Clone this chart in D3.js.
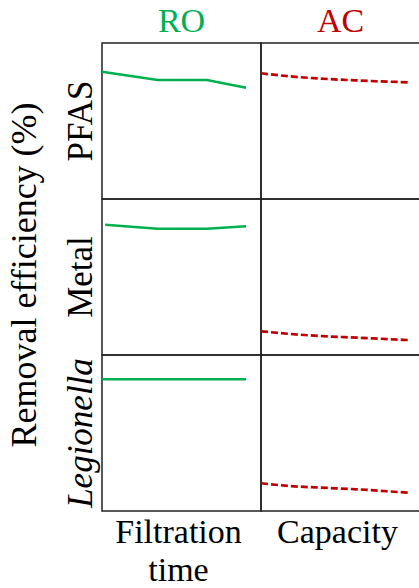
<!DOCTYPE html>
<html>
<head>
<meta charset="utf-8">
<script src="https://cdn.jsdelivr.net/npm/d3@7"></script>
</head>
<body style="margin:0">
<div class="container"></div>
<script>
// DATA
const rows = ["PFAS", "Metal", "Legionella"];
const columns = ["RO", "AC"];
const xLabels = [["Filtration", "time"], ["Capacity"]];

// RO: removal efficiency (%) along filtration time
const roTime = [0, 35, 66, 90.6];
const roPFAS = [81.6, 76.3, 76.3, 71.3];
const roMetalTime = [2, 35, 66, 90.6];
const roMetal = [83.5, 81, 81, 82.5];
const roLegionella = [84.4, 84.4, 84.4, 84.4];

// AC: removal efficiency (%) along capacity
const acCapacity = [0, 18.2, 37.1, 60.4, 92.5];
const acPFAS = [80.6, 78.6, 77.2, 76.0, 74.8];
const acMetal = [15.2, 13.5, 12.2, 11.1, 9.6];
const acLegionella = [17.8, 16.0, 15.0, 13.9, 11.7];

const series = [
  { row: 0, col: 0, x: roTime, y: roPFAS },
  { row: 1, col: 0, x: roMetalTime, y: roMetal },
  { row: 2, col: 0, x: roTime, y: roLegionella },
  { row: 0, col: 1, x: acCapacity, y: acPFAS },
  { row: 1, col: 1, x: acCapacity, y: acMetal },
  { row: 2, col: 1, x: acCapacity, y: acLegionella }
];

const colColors = ["#00b050", "#c00000"];
const serif = "'Liberation Serif', monospace";

// FRAME
const width = 419, height = 588;
const margin = { top: 43, left: 102 };
const cellW = 159, cellH = 156;

const svg = d3.select(".container")
  .append("svg")
  .attr("width", width)
  .attr("height", height)
  .style("display", "block");

// SCALES
const colBand = d3.scaleBand().domain(d3.range(columns.length))
  .range([margin.left, margin.left + cellW * columns.length]);
const rowBand = d3.scaleBand().domain(d3.range(rows.length))
  .range([margin.top, margin.top + cellH * rows.length]);

const x = d3.scaleLinear().domain([0, 100]).range([0, cellW]);
const y = d3.scaleLinear().domain([0, 100]).range([cellH, 0]);

// CELLS
const cells = svg.append("g");
rows.forEach((r, ri) => {
  columns.forEach((c, ci) => {
    cells.append("rect")
      .attr("x", colBand(ci))
      .attr("y", rowBand(ri))
      .attr("width", cellW)
      .attr("height", cellH)
      .attr("fill", "none")
      .attr("stroke", "#222")
      .attr("stroke-width", 1.5);
  });
});

// LINES
series.forEach(s => {
  const line = d3.line()
    .x(d => x(d[0]))
    .y(d => y(d[1]))
    .curve(s.col === 0 ? d3.curveLinear : d3.curveMonotoneX);
  svg.append("path")
    .attr("transform", `translate(${colBand(s.col)}, ${rowBand(s.row)})`)
    .datum(d3.zip(s.x, s.y))
    .attr("d", line)
    .attr("fill", "none")
    .attr("stroke", colColors[s.col])
    .attr("stroke-width", s.col === 1 ? 2.7 : 2.5)
    .attr("stroke-dasharray", s.col === 1 ? "7,3" : null);
});

// COLUMN TITLES
svg.selectAll(".col-title")
  .data(columns)
  .enter()
  .append("text")
  .attr("x", (d, i) => colBand(i) + cellW / 2)
  .attr("y", 32)
  .attr("text-anchor", "middle")
  .attr("font-family", serif)
  .attr("font-size", 34)
  .attr("fill", (d, i) => colColors[i])
  .text(d => d);

// ROW TITLES
svg.selectAll(".row-title")
  .data(rows)
  .enter()
  .append("text")
  .attr("transform", (d, i) => `translate(92, ${rowBand(i) + cellH / 2}) rotate(-90)`)
  .attr("text-anchor", "middle")
  .attr("font-family", serif)
  .attr("font-size", 35)
  .attr("font-style", d => d === "Legionella" ? "italic" : null)
  .text(d => d);

// Y AXIS LABEL
svg.append("text")
  .attr("transform", `translate(36, ${margin.top + cellH * 1.5 - 2}) rotate(-90)`)
  .attr("text-anchor", "middle")
  .attr("font-family", serif)
  .attr("font-size", 36)
  .text("Removal efficiency (%)");

// X LABELS
xLabels.forEach((lines, i) => {
  const t = svg.append("text")
    .attr("text-anchor", "middle")
    .attr("font-family", serif)
    .attr("font-size", 34);
  lines.forEach((l, j) => {
    t.append("tspan")
      .attr("x", colBand(i) + cellW / 2 - 3)
      .attr("y", 543 + j * 38)
      .text(l);
  });
});
</script>
</body>
</html>
